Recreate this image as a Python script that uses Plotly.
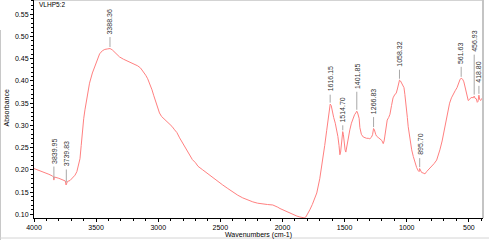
import numpy as np
import plotly.graph_objects as go

# ---------------- data ----------------
wavenumber = [
    4000, 3960, 3920, 3880, 3850, 3843, 3840, 3837, 3800, 3770, 3748, 3742, 3738, 3730,
    3710, 3690, 3670, 3655, 3640, 3630, 3620, 3610, 3600, 3590, 3570, 3553, 3530, 3512,
    3490, 3472, 3450, 3430, 3410, 3388, 3370, 3351, 3330, 3311, 3280, 3246, 3220, 3190,
    3165, 3142, 3120, 3101, 3085, 3069, 3050, 3037, 3020, 3005, 2990, 2973, 2955, 2940,
    2925, 2908, 2890, 2868, 2850, 2828, 2800, 2774, 2750, 2725, 2700, 2680, 2642, 2600,
    2562, 2520, 2481, 2440, 2400, 2360, 2320, 2280, 2239, 2200, 2159, 2120, 2078, 2055,
    2038, 2020, 1998, 1970, 1941, 1910, 1884, 1860, 1840, 1825, 1812, 1795, 1780, 1760,
    1740, 1724, 1700, 1676, 1660, 1644, 1630, 1622, 1616, 1608, 1598, 1588, 1575, 1565,
    1554, 1545, 1538, 1532, 1525, 1519, 1515, 1510, 1503, 1496, 1490, 1484, 1475, 1458,
    1445, 1431, 1420, 1410, 1402, 1395, 1383, 1377, 1365, 1350, 1335, 1323, 1310, 1297,
    1285, 1275, 1267, 1260, 1250, 1243, 1230, 1216, 1200, 1189, 1182, 1176, 1165, 1157,
    1145, 1135, 1122, 1110, 1095, 1085, 1075, 1065, 1058, 1050, 1040, 1030, 1022, 1015,
    1009, 1001, 995, 988, 975, 960, 947, 934, 920, 907, 900, 896, 890, 880, 868, 853,
    840, 827, 813, 799, 780, 759, 745, 733, 715, 700, 685, 670, 655, 640, 625, 610,
    595, 580, 570, 562, 550, 540, 530, 520, 512, 505, 495, 485, 475, 465, 457, 450,
    440, 432, 426, 419, 412, 405, 398, 388,
]
absorbance = [
    0.203, 0.199, 0.195, 0.190, 0.186, 0.184, 0.177, 0.184, 0.181, 0.178, 0.175, 0.166, 0.170, 0.174,
    0.176, 0.181, 0.188, 0.196, 0.210, 0.225, 0.255, 0.290, 0.315, 0.335, 0.370, 0.395, 0.418, 0.432,
    0.449, 0.461, 0.468, 0.471, 0.472, 0.473, 0.470, 0.465, 0.459, 0.454, 0.449, 0.445, 0.442, 0.438,
    0.434, 0.429, 0.421, 0.413, 0.405, 0.395, 0.380, 0.368, 0.354, 0.340, 0.328, 0.320, 0.315, 0.312,
    0.308, 0.304, 0.298, 0.290, 0.284, 0.272, 0.259, 0.245, 0.235, 0.223, 0.216, 0.208, 0.200, 0.191,
    0.182, 0.174, 0.166, 0.158, 0.150, 0.143, 0.137, 0.132, 0.128, 0.125, 0.123, 0.122, 0.121, 0.119,
    0.116, 0.113, 0.110, 0.106, 0.103, 0.099, 0.096, 0.094, 0.092, 0.092, 0.094, 0.101, 0.110, 0.122,
    0.136, 0.148, 0.180, 0.222, 0.255, 0.289, 0.325, 0.342, 0.348, 0.345, 0.330, 0.318, 0.305, 0.293,
    0.275, 0.255, 0.234, 0.240, 0.265, 0.280, 0.286, 0.280, 0.260, 0.245, 0.240, 0.250, 0.270, 0.290,
    0.305, 0.318, 0.324, 0.328, 0.332, 0.328, 0.316, 0.295, 0.280, 0.274, 0.272, 0.271, 0.271, 0.270,
    0.273, 0.279, 0.293, 0.290, 0.280, 0.276, 0.273, 0.270, 0.266, 0.259, 0.265, 0.276, 0.300, 0.312,
    0.318, 0.325, 0.345, 0.362, 0.370, 0.372, 0.382, 0.395, 0.402, 0.400, 0.395, 0.390, 0.385, 0.370,
    0.357, 0.335, 0.318, 0.297, 0.270, 0.245, 0.230, 0.215, 0.205, 0.198, 0.196, 0.203, 0.199, 0.194, 0.193, 0.191,
    0.196, 0.200, 0.203, 0.207, 0.214, 0.222, 0.232, 0.245, 0.265, 0.287, 0.310, 0.332, 0.350, 0.362, 0.372, 0.378,
    0.385, 0.398, 0.404, 0.406, 0.404, 0.398, 0.385, 0.370, 0.360, 0.356, 0.358, 0.362, 0.363, 0.362, 0.366, 0.361,
    0.360, 0.352, 0.354, 0.368, 0.358, 0.356, 0.360, 0.358,
]

peak_wn = [3839.95, 3739.83, 3388.36, 1616.15, 1514.70, 1401.85, 1266.83, 1058.32, 895.70, 561.63, 456.93, 418.80]
peak_labels = ["3839.95", "3739.83", "3388.36", "1616.15", "1514.70", "1401.85", "1266.83",
               "1058.32", "895.70", "561.63", "456.93", "418.80"]
leader_len = [12, 13, 10, 8, 5, 18, 10, 9, 9, 10, 40, 8]   # px

y_ticks = [0.10, 0.15, 0.20, 0.25, 0.30, 0.35, 0.40, 0.45, 0.50, 0.55]
x_ticks = [4000, 3500, 3000, 2500, 2000, 1500, 1000, 500]

# ---------------- figure ----------------
FONT = "Liberation Sans, Arial, sans-serif"
W, H = 489, 240
ML, MR, MT, MB = 34, 6, 0, 22

fig = go.Figure()
fig.add_trace(go.Scatter(
    x=wavenumber, y=absorbance, mode="lines",
    line=dict(color="#ff8080", width=1),
    hoverinfo="skip", showlegend=False,
))

wn_inc = np.array(wavenumber[::-1], dtype=float)
ab_inc = np.array(absorbance[::-1], dtype=float)
peak_ab = np.interp(peak_wn, wn_inc, ab_inc)

shapes = []
annotations = []
gap = 1.5
for wn, ab, lab, L in zip(peak_wn, peak_ab, peak_labels, leader_len):
    shapes.append(dict(type="line", xref="x", yref="y", ysizemode="pixel", yanchor=float(ab),
                       x0=wn, x1=wn, y0=gap, y1=gap + L,
                       line=dict(color="#a8a8a8", width=1)))
    annotations.append(dict(x=wn, y=float(ab), xref="x", yref="y", text=lab,
                            showarrow=False, textangle=-90, xanchor="center", yanchor="bottom",
                            yshift=gap + L + 1, font=dict(family=FONT, size=7, color="#333333")))

pw = W - ML - MR
ph = H - MT - MB
def px_x(p):
    return (p - ML) / pw
def px_y(p):
    return 1 - (p - MT) / ph

# frame: light grey top / right borders
shapes.append(dict(type="line", xref="paper", yref="paper", x0=0, x1=1, y0=1, y1=1,
                   line=dict(color="#c4c4c4", width=1.5)))
shapes.append(dict(type="line", xref="paper", yref="paper", x0=1, x1=1, y0=0, y1=1,
                   line=dict(color="#c4c4c4", width=2)))
# window edges
shapes.append(dict(type="line", xref="paper", yref="paper", x0=px_x(0.5), x1=px_x(0.5),
                   y0=px_y(30), y1=px_y(240), line=dict(color="#c8c8c8", width=1)))
shapes.append(dict(type="line", xref="paper", yref="paper", x0=px_x(0), x1=px_x(489),
                   y0=px_y(238), y1=px_y(238), line=dict(color="#d4d4d4", width=1)))

# titles
annotations.append(dict(xref="paper", yref="paper", x=px_x(37), y=px_y(4.5), text="VLHP5:2",
                        showarrow=False, xanchor="left", yanchor="middle",
                        font=dict(family=FONT, size=6.5, color="#000000")))
annotations.append(dict(xref="paper", yref="paper", x=px_x(5.5), y=px_y(108), text="Absorbance",
                        showarrow=False, textangle=-90, xanchor="center", yanchor="middle",
                        font=dict(family=FONT, size=7, color="#000000")))
annotations.append(dict(xref="paper", yref="paper", x=px_x(258.5), y=px_y(235), text="Wavenumbers (cm-1)",
                        showarrow=False, xanchor="center", yanchor="middle",
                        font=dict(family=FONT, size=7, color="#000000")))

fig.update_layout(
    width=W, height=H, autosize=False,
    margin=dict(l=ML, r=MR, t=MT, b=MB, pad=0),
    paper_bgcolor="white", plot_bgcolor="white",
    showlegend=False,
    shapes=shapes, annotations=annotations,
    xaxis=dict(range=[4000, 386], showgrid=False, zeroline=False,
               showline=True, linecolor="#000000", linewidth=1,
               tickmode="array", tickvals=x_ticks, ticktext=[str(v) for v in x_ticks],
               ticks="outside", ticklen=3, tickwidth=1, tickcolor="#000000",
               minor=dict(dtick=100, ticks="outside", ticklen=2, tickcolor="#000000", showgrid=False),
               tickfont=dict(family=FONT, size=7, color="#000000")),
    yaxis=dict(range=[0.0917, 0.5822], showgrid=False, zeroline=False,
               showline=True, linecolor="#000000", linewidth=1,
               tickmode="array", tickvals=y_ticks, ticktext=[f"{v:.2f}" for v in y_ticks],
               ticks="outside", ticklen=3, tickwidth=1, tickcolor="#000000",
               minor=dict(dtick=0.01, tick0=0, ticks="outside", ticklen=2, tickcolor="#000000", showgrid=False),
               tickfont=dict(family=FONT, size=7, color="#000000")),
)

fig.write_html("out.html", config={"displayModeBar": False},
               post_script="document.body.style.margin='0';document.body.style.overflow='hidden';")
